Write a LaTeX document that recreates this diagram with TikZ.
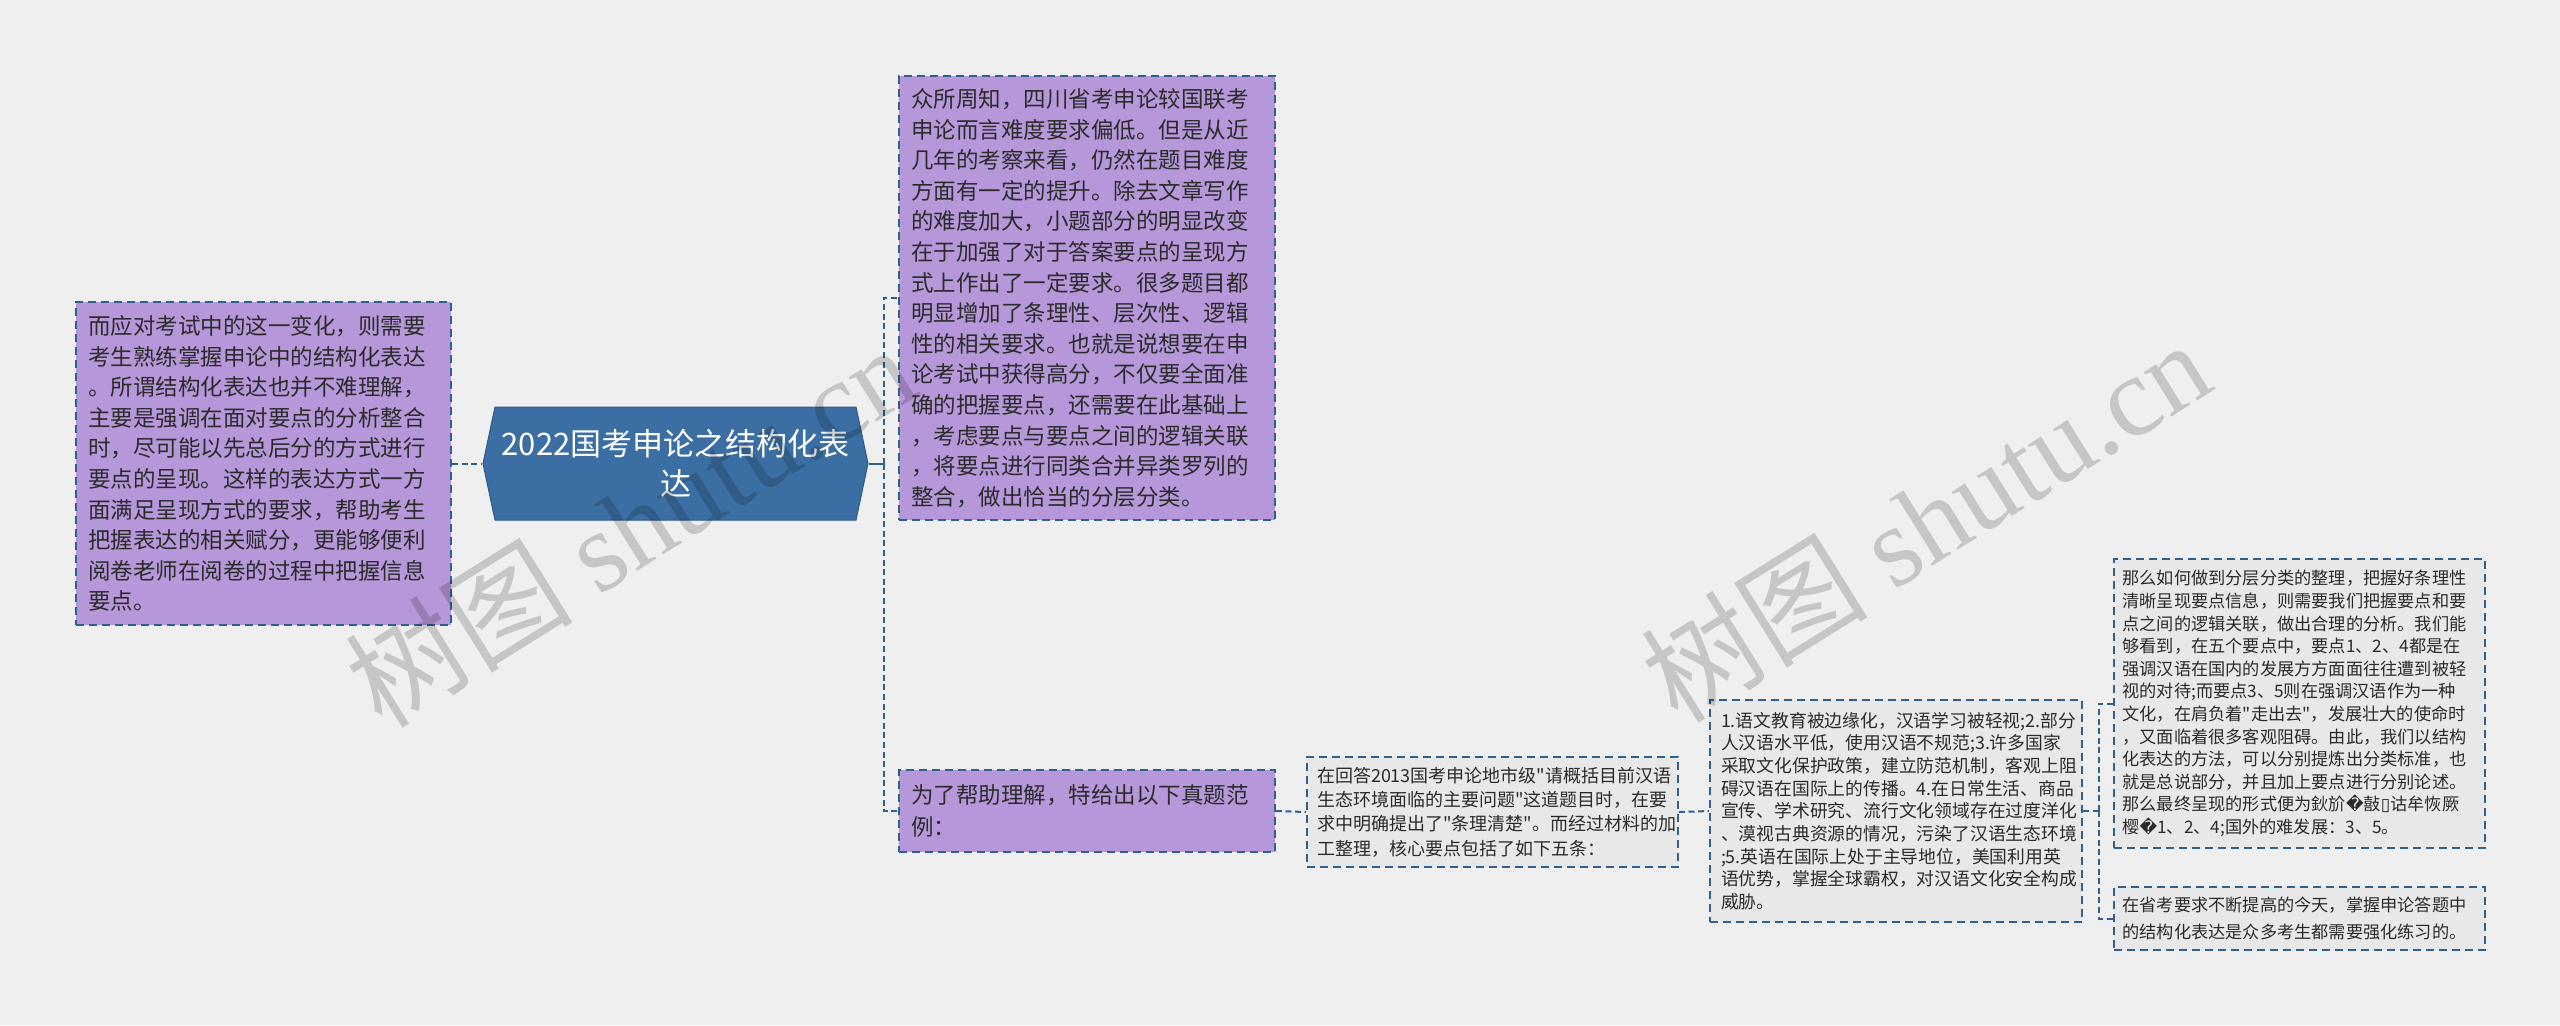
\documentclass[tikz,border=0pt]{standalone}
\usepackage{fontspec}
\setmainfont{Noto Sans CJK SC}[Ligatures=TeXOff]
\newfontfamily\symfont{DejaVu Sans}
\newfontfamily\wmfont{Liberation Serif}
\usetikzlibrary{shapes.symbols}

\begin{document}
\begin{tikzpicture}[x=0.5pt,y=-0.5pt,
  topicnode/.style={signal,signal to=west and east,signal pointer angle=156,
    fill=topicblue,draw=topicblue!80!black,line width=0.5pt,text=white,
    minimum width=192.5pt,minimum height=56.5pt,inner sep=0pt,align=center,
    font=\fontsize{15.5}{20}\selectfont},
  mainnode/.style={draw=edgeblue,fill=lilac,dash pattern=on 4pt off 2.5pt,
    line width=0.9pt,text=ink,align=left,inner xsep=6pt,inner ysep=0pt,
    font=\fontsize{11.25}{15.3}\selectfont},
  subnode/.style={draw=edgeblue,fill=paper,dash pattern=on 4pt off 2.5pt,
    line width=0.9pt,text=ink,align=left,inner xsep=5pt,inner ysep=0pt},
  link/.style={draw=edgeblue,line width=1pt,dash pattern=on 3pt off 1.8pt},
  stub/.style={draw=edgeblue,line width=1pt},
  watermark/.style={rotate=32,text=black,text opacity=0.17,
    font=\fontsize{57}{60}\selectfont}]
\definecolor{bgcol}{HTML}{EFEFEF}
\definecolor{lilac}{HTML}{B697D9}
\definecolor{edgeblue}{HTML}{2F6190}
\definecolor{topicblue}{HTML}{3B6FA3}
\definecolor{paper}{HTML}{E8E8E8}
\definecolor{ink}{HTML}{2B2B2B}
\fill[bgcol] (0,0) rectangle (2560,1025);
\useasboundingbox (0,0) rectangle (2560,1025);

\node[topicnode] (topic) at (675.5,463.5) {2022国考申论之结构化表\\达};

\node[mainnode,text width=175.5pt,minimum height=161.5pt] (story) at (263.5,463.5)
  {而应对考试中的这一变化，则需要\\考生熟练掌握申论中的结构化表达\\。所谓结构化表达也并不难理解，\\主要是强调在面对要点的分析整合\\时，尽可能以先总后分的方式进行\\要点的呈现。这样的表达方式一方\\面满足呈现方式的要求，帮助考生\\把握表达的相关赋分，更能够便利\\阅卷老师在阅卷的过程中把握信息\\要点。};
\node[mainnode,text width=176pt,minimum height=222pt] (intro) at (1087,298)
  {众所周知，四川省考申论较国联考\\申论而言难度要求偏低。但是从近\\几年的考察来看，仍然在题目难度\\方面有一定的提升。除去文章写作\\的难度加大，小题部分的明显改变\\在于加强了对于答案要点的呈现方\\式上作出了一定要求。很多题目都\\明显增加了条理性、层次性、逻辑\\性的相关要求。也就是说想要在申\\论考试中获得高分，不仅要全面准\\确的把握要点，还需要在此基础上\\，考虑要点与要点之间的逻辑关联\\，将要点进行同类合并异类罗列的\\整合，做出恰当的分层分类。};
\node[mainnode,text width=176pt,minimum height=41pt,
  font=\fontsize{11.25}{16}\selectfont] (help) at (1087,811)
  {为了帮助理解，特给出以下真题范\\例：};

\node[subnode,text width=175.5pt,minimum height=55pt,
  font=\fontsize{9}{12.2}\selectfont] (example) at (1492.5,812)
  {在回答2013国考申论地市级"请概括目前汉语\\生态环境面临的主要问题"这道题目时，在要\\求中明确提出了"条理清楚"。而经过材料的加\\工整理，核心要点包括了如下五条：};
\node[subnode,text width=175pt,minimum height=111pt,inner xsep=5.5pt,
  font=\fontsize{8.9}{11.35}\selectfont] (points) at (1896,811)
  {1.语文教育被边缘化，汉语学习被轻视;2.部分\\人汉语水平低，使用汉语不规范;3.许多国家\\采取文化保护政策，建立防范机制，客观上阻\\碍汉语在国际上的传播。4.在日常生活、商品\\宣传、学术研究、流行文化领域存在过度洋化\\、漠视古典资源的情况，污染了汉语生态环境\\;5.英语在国际上处于主导地位，美国利用英\\语优势，掌握全球霸权，对汉语文化安全构成\\威胁。};
\node[subnode,text width=177pt,minimum height=144.5pt,inner xsep=4.25pt,
  font=\fontsize{8.6}{11.3}\selectfont] (way) at (2299.5,703.5)
  {那么如何做到分层分类的整理，把握好条理性\\清晰呈现要点信息，则需要我们把握要点和要\\点之间的逻辑关联，做出合理的分析。我们能\\够看到，在五个要点中，要点1、2、4都是在\\强调汉语在国内的发展方方面面往往遭到被轻\\视的对待;而要点3、5则在强调汉语作为一种\\文化，在肩负着"走出去"，发展壮大的使命时\\，又面临着很多客观阻碍。由此，我们以结构\\化表达的方法，可以分别提炼出分类标准，也\\就是总说部分，并且加上要点进行分别论述。\\那么最终呈现的形式便为鈥斺{\symfont �}敼{\symfont ▯}诂牟恢厥\\樱{\symfont �}1、2、4;国外的难发展：3、5。};
\node[subnode,text width=177pt,minimum height=31.5pt,inner xsep=4.25pt,
  font=\fontsize{8.6}{13.3}\selectfont] (tip) at (2299.5,918.5)
  {在省考要求不断提高的今天，掌握申论答题中\\的结构化表达是众多考生都需要强化练习的。};

% connectors
\draw[link] (story.east) -- (topic.west);
\draw[stub] (topic.east) -- ++(15,0) coordinate (fork);
\draw[link] (fork) |- (intro.west);
\draw[link] (fork) |- (help.west);
\draw[link] (help.east) -- (example.west);
\draw[link] (example.east) -- (points.west);
\draw[link] (points.east) -- ++(16,0) coordinate (split);
\draw[link] (split) |- (way.west);
\draw[link] (split) |- (tip.west);

\foreach \wx/\wy in {630/525,1925/520}
  {\node[watermark] (wm\wx) at (\wx,\wy) {树图 {\wmfont shutu.cn}};}
\end{tikzpicture}
\end{document}
